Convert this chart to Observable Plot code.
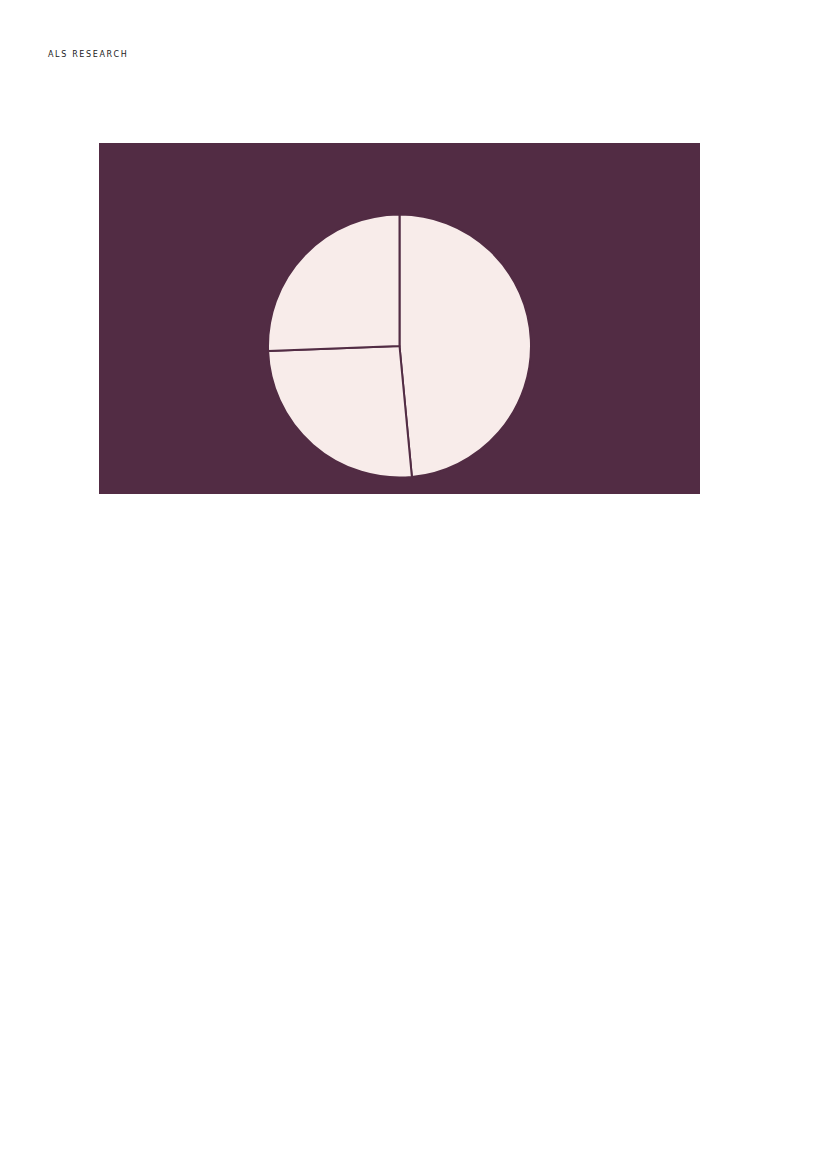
<!DOCTYPE html>
<html>
<head>
<meta charset="utf-8">
<script src="https://cdn.jsdelivr.net/npm/d3@7"></script>
<script src="https://cdn.jsdelivr.net/npm/@observablehq/plot@0.6"></script>
<style>
  html, body { margin: 0; padding: 0; background: #ffffff; }
  body { width: 827px; height: 1169px; position: relative; font-family: "DejaVu Sans", sans-serif; }
  #title { position: absolute; left: 48px; top: 50px; font-size: 8px; letter-spacing: 1.65px; color: #222; }
  #chart { position: absolute; left: 99px; top: 143px; }
</style>
</head>
<body>
<div id="title">ALS RESEARCH</div>
<div id="chart"></div>
<script>
const categories = ["A", "B", "C"];
const values = [48.5, 25.9, 25.6];

const bg = "#522c44";
const sliceFill = "#f8ecea";

const data = categories.map((c, i) => ({category: c, value: values[i]}));

function pieMark(index, scales, values_, dims) {
  const {width, height, marginLeft, marginRight, marginTop, marginBottom} = dims;
  const cx = marginLeft + (width - marginLeft - marginRight) / 2;
  const cy = marginTop + (height - marginTop - marginBottom) / 2;
  const r = 131.5;
  const arcs = d3.pie().sort(null).value(d => d.value)(data);
  const arc = d3.arc().innerRadius(0).outerRadius(r);
  const g = d3.create("svg:g").attr("transform", `translate(${cx},${cy})`);
  g.selectAll("path").data(arcs).join("path")
    .attr("d", arc)
    .attr("fill", sliceFill)
    .attr("stroke", bg)
    .attr("stroke-width", 2)
    .attr("stroke-linejoin", "round");
  return g.node();
}

const plot = Plot.plot({
  width: 601,
  height: 351,
  marginTop: 57,
  marginBottom: 2,
  marginLeft: 0,
  marginRight: 0,
  style: {background: bg},
  x: {axis: null},
  y: {axis: null},
  marks: [pieMark]
});
document.getElementById("chart").appendChild(plot);
</script>
</body>
</html>
